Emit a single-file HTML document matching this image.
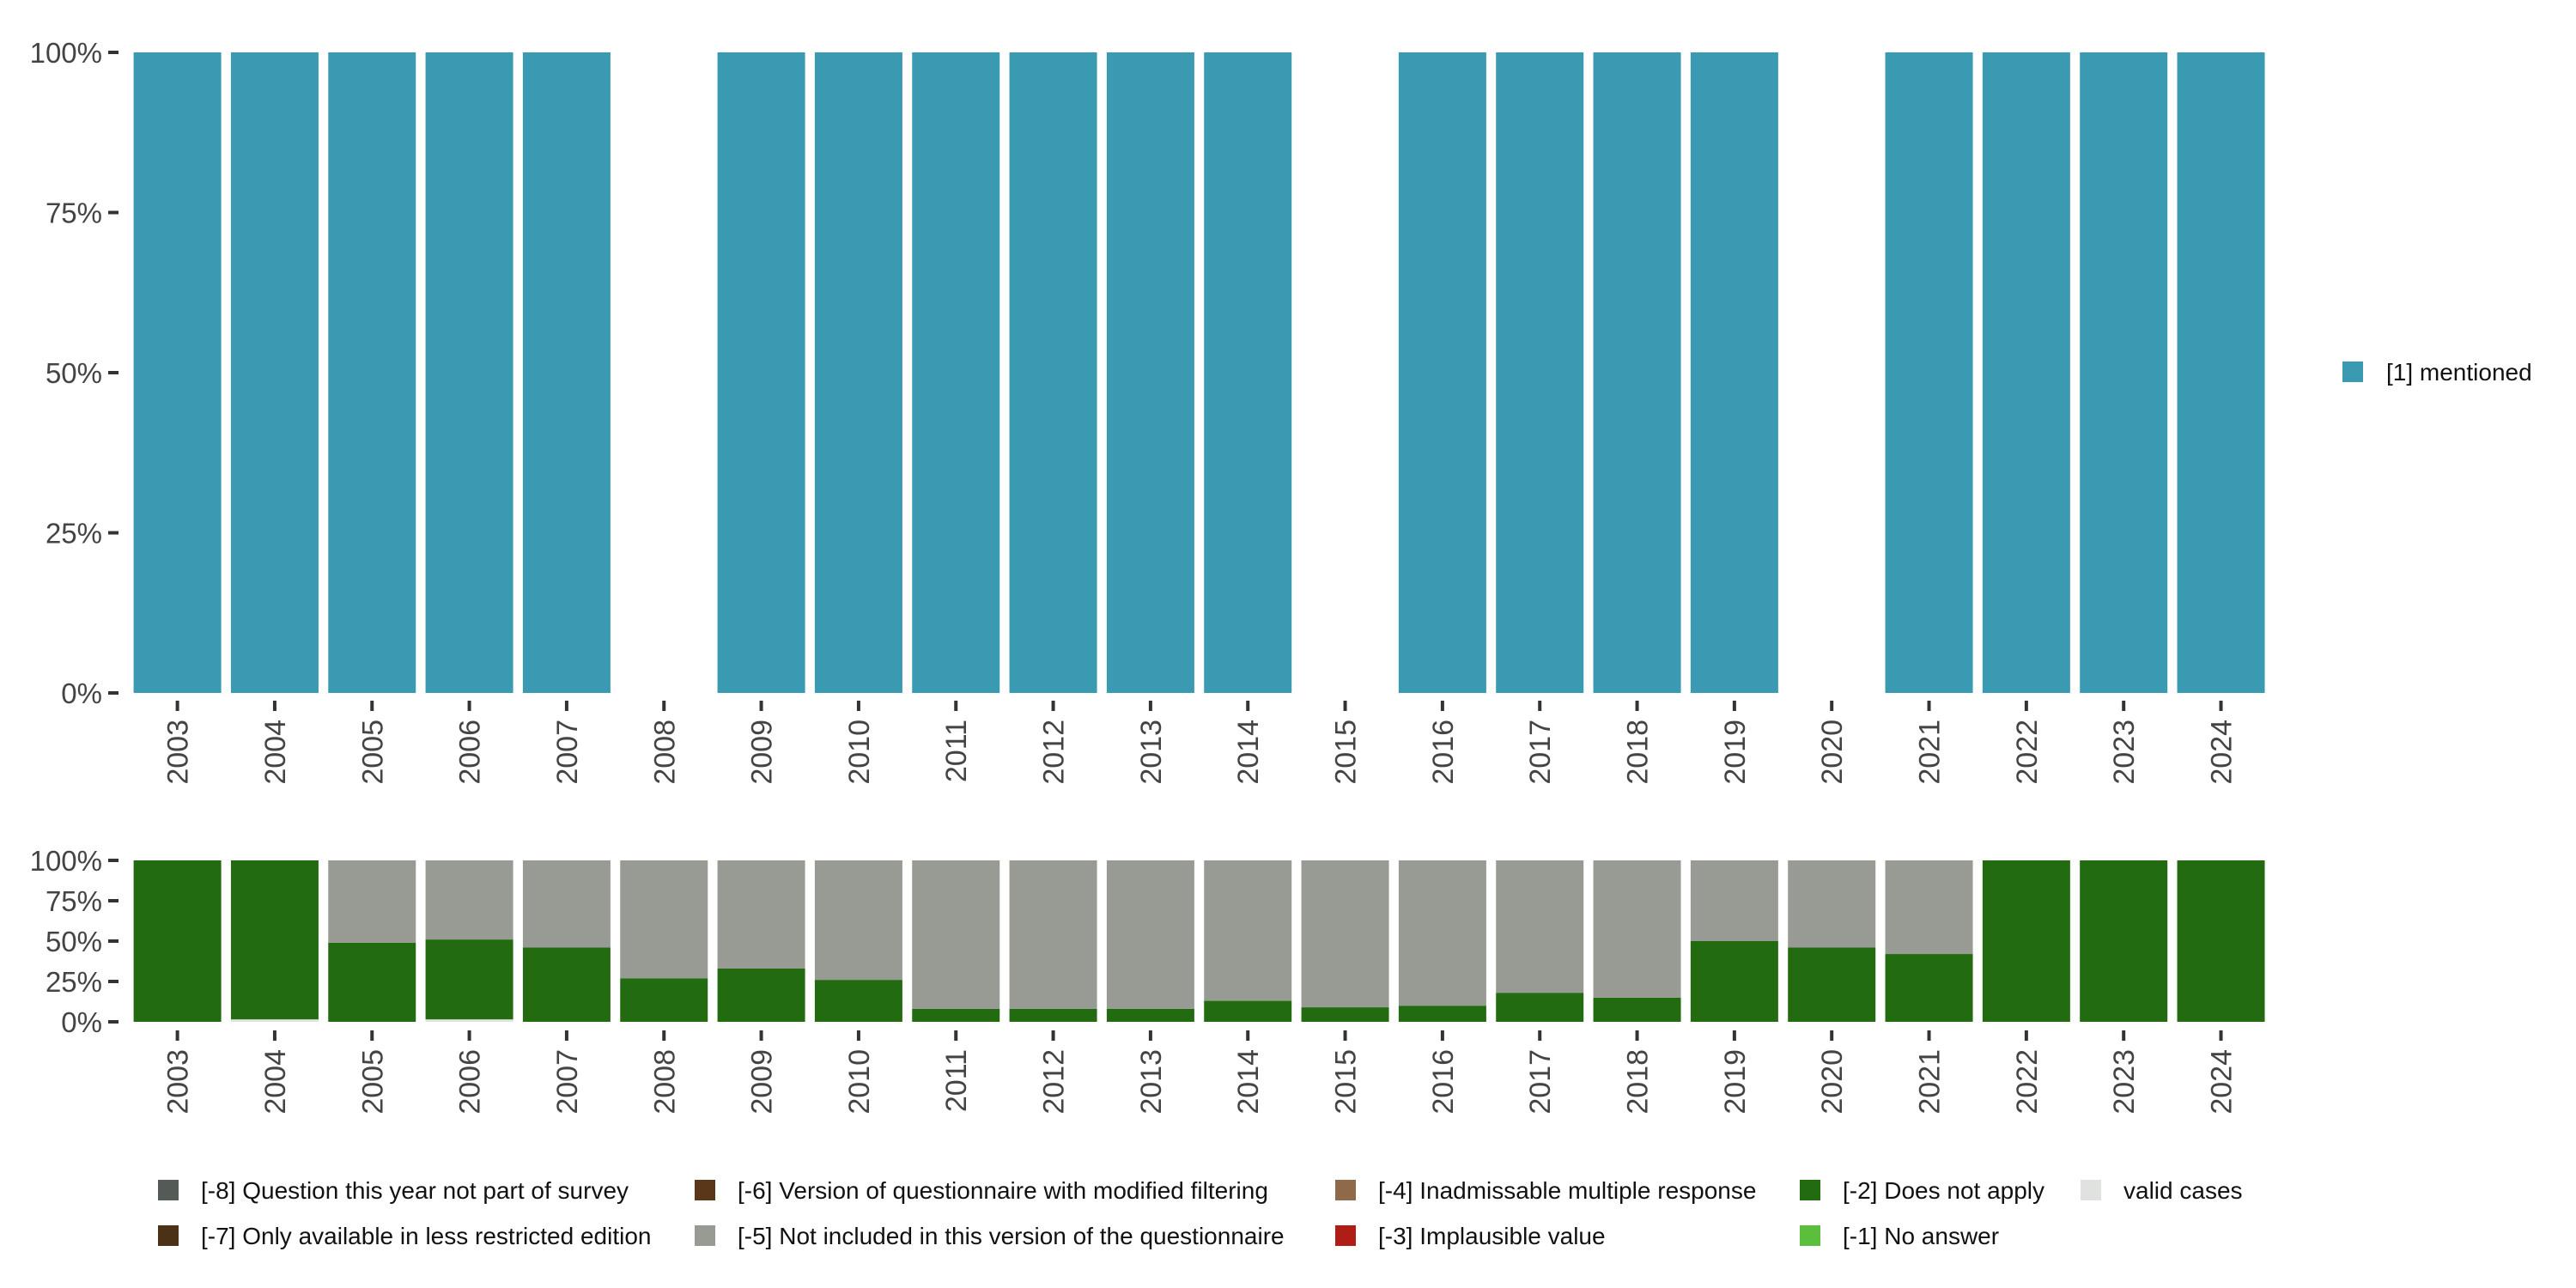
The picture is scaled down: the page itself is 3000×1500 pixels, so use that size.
<!DOCTYPE html>
<html><head><meta charset="utf-8"><style>
body{margin:0;background:#fff;}
svg{display:block;font-family:"Liberation Sans","DejaVu Sans",sans-serif;}
</style></head><body>
<svg id="chart" width="3000" height="1500" xmlns="http://www.w3.org/2000/svg"></svg>
<script>
const years=[2003,2004,2005,2006,2007,2008,2009,2010,2011,2012,2013,2014,2015,2016,2017,2018,2019,2020,2021,2022,2023,2024];
const mentioned=[100,100,100,100,100,0,100,100,100,100,100,100,0,100,100,100,100,0,100,100,100,100];
const validCases=[0,1.5,0,1.5,0,0,0,0,0,0,0,0,0,0,0,0,0,0,0,0,0,0];
const doesNotApply=[100,98.5,49,49.5,46,27,33,26,8,8,8,13,9,10,18,15,50,46,42,100,100,100];
const notIncluded=[0,0,51,49,54,73,67,74,92,92,92,87,91,90,82,85,50,54,58,0,0,0];
const yTicks=[0,25,50,75,100];
const yTickLabels=["0%","25%","50%","75%","100%"];

const svg=document.getElementById('chart');
const NS='http://www.w3.org/2000/svg';
function mk(tag,attrs,parent){const e=document.createElementNS(NS,tag);for(const k in attrs)e.setAttribute(k,attrs[k]);(parent||svg).appendChild(e);return e;}
const x0=206.6,step=113.33,bw=102;
const xc=i=>x0+i*step;
const yTop=v=>807-(v/100)*746;
const yBot=v=>1190-(v/100)*188;

function axes(yf,fs,labelY){
  const g=mk('g',{});
  
  
  yTicks.forEach((t,i)=>{
    const y=yf(t);
    const tk=mk('line',{x1:126,x2:138,y1:y,y2:y,stroke:'#333','stroke-width':4},g);
    
    
    const tx=mk('text',{x:119,y:y+fs*0.36,'font-size':fs,'text-anchor':'end',fill:'#444'},g);
    
    
    tx.textContent=yTickLabels[i];
  });
  const gx=mk('g',{});
  
  
  years.forEach((yr,i)=>{
    const x=xc(i);
    const tk=mk('line',{x1:x,x2:x,y1:labelY-22,y2:labelY-10,stroke:'#333','stroke-width':4},gx);
    
    
    const tx=mk('text',{x:0,y:0,'font-size':34,'text-anchor':'end',fill:'#444',transform:`translate(${x+12},${labelY}) rotate(-90)`},gx);
    
    
    tx.textContent=yr;
  });
}
axes(yTop,33,838);
axes(yBot,33,1222);

years.forEach((yr,i)=>{
  if(mentioned[i]>0){
    const r=mk('rect',{x:xc(i)-bw/2,y:yTop(mentioned[i]),width:bw,height:yTop(0)-yTop(mentioned[i]),fill:'#3a9ab2'});
    
    
  }
  let base=0;
  const segs=[[validCases[i],'#e0e2df','valid'],[doesNotApply[i],'#226b11','does-not-apply'],[notIncluded[i],'#989b94','not-included']];
  segs.forEach(s=>{
    if(s[0]>0){
      const r=mk('rect',{x:xc(i)-bw/2,y:yBot(base+s[0]),width:bw,height:yBot(base)-yBot(base+s[0]),fill:s[1]});
      
      
    }
    base+=s[0];
  });
});

const lg=mk('g',{});


mk('rect',{x:2728,y:421,width:24,height:24,fill:'#3a9ab2'},lg);
const lt=mk('text',{x:2779,y:443,'font-size':28,fill:'#111'},lg);
lt.textContent='[1] mentioned';

const entries=[
 [184,1386,'#545b57','[-8] Question this year not part of survey'],
 [184,1439,'#4b3116','[-7] Only available in less restricted edition'],
 [809,1386,'#5a3718','[-6] Version of questionnaire with modified filtering'],
 [809,1439,'#989b94','[-5] Not included in this version of the questionnaire'],
 [1555,1386,'#8e6a4a','[-4] Inadmissable multiple response'],
 [1555,1439,'#b01c16','[-3] Implausible value'],
 [2096,1386,'#226b11','[-2] Does not apply'],
 [2096,1439,'#5bbf3d','[-1] No answer'],
 [2423,1386,'#e0e2df','valid cases']
];
const bl=mk('g',{});


entries.forEach(e=>{
  const g=mk('g',{},bl);
  
  
  mk('rect',{x:e[0],y:e[1]-12,width:24,height:24,fill:e[2]},g);
  const t=mk('text',{x:e[0]+50,y:e[1]+10,'font-size':28,fill:'#111'},g);
  t.textContent=e[3];
});
</script>
</body></html>
